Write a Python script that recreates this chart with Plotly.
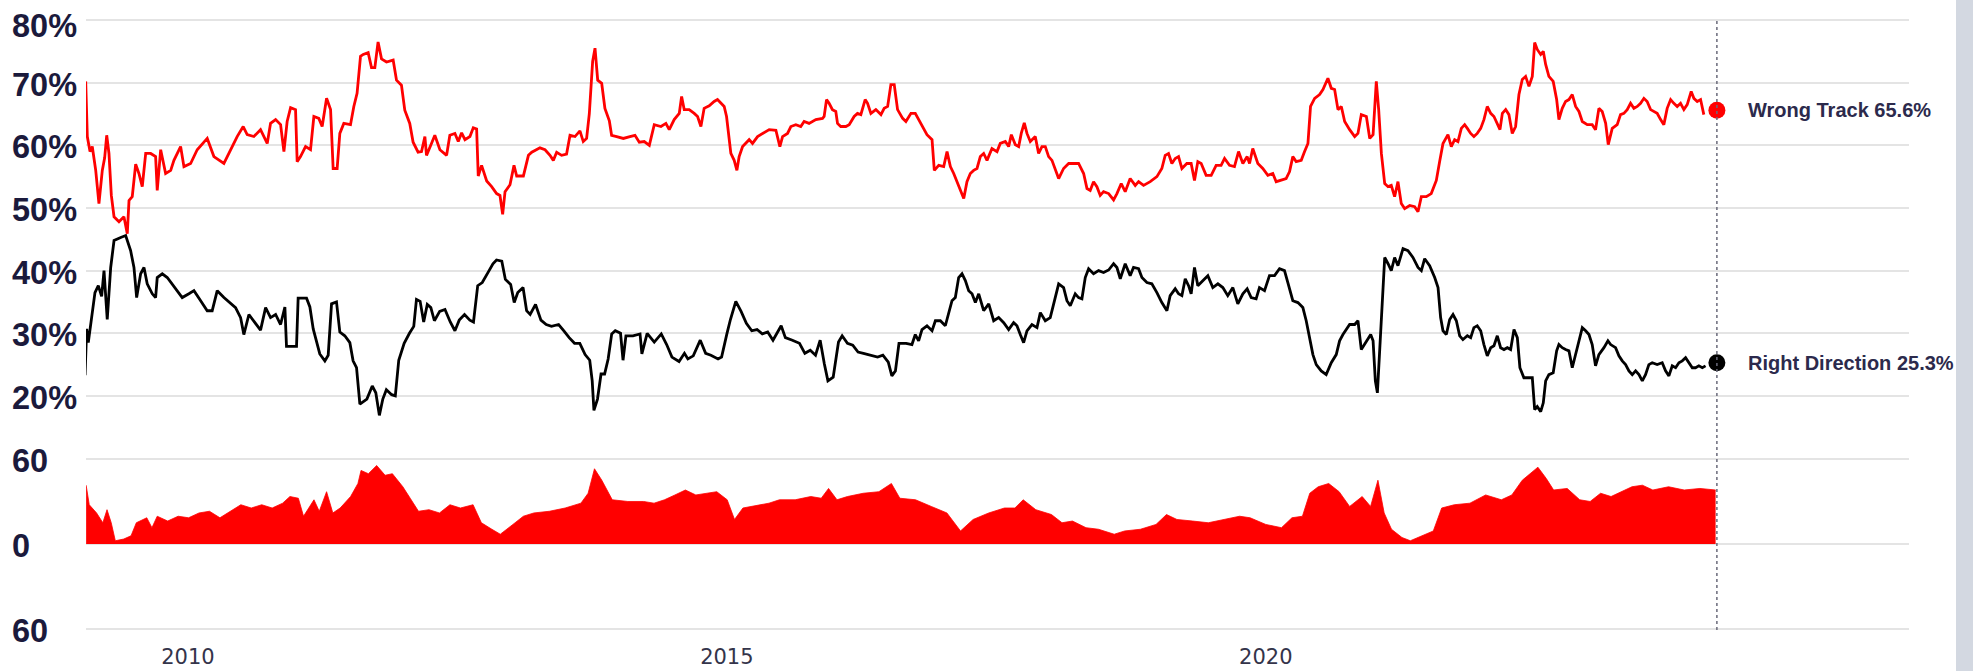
import plotly.graph_objects as go
from datetime import datetime

# ---------------- data (decimal years, percent) ----------------
wrong_t = [2009.051,2009.066,2009.091,2009.112,2009.144,2009.174,2009.205,2009.227,2009.246,2009.267,2009.289,2009.314,2009.360,2009.406,2009.437,2009.453,2009.483,2009.515,2009.545,2009.576,2009.608,2009.654,2009.700,2009.715,2009.747,2009.793,2009.840,2009.870,2009.932,2009.963,
 2010.025,2010.086,2010.179,2010.241,2010.334,2010.396,2010.457,2010.513,2010.550,2010.612,2010.674,2010.736,2010.767,2010.814,2010.860,2010.891,2010.921,2010.953,2010.999,
 2011.014,2011.045,2011.092,2011.138,2011.169,2011.215,2011.246,2011.287,2011.324,2011.348,2011.385,2011.410,2011.447,2011.509,2011.540,2011.570,2011.602,2011.627,2011.673,2011.704,2011.735,2011.765,2011.797,2011.843,2011.905,2011.936,2011.982,
 2012.013,2012.059,2012.090,2012.136,2012.168,2012.199,2012.214,2012.260,2012.291,2012.338,2012.400,2012.430,2012.477,2012.508,2012.539,2012.570,2012.616,2012.647,2012.678,2012.693,2012.724,2012.771,2012.817,2012.863,2012.894,2012.919,2012.941,2012.987,
 2013.024,2013.049,2013.111,2013.158,2013.189,2013.265,2013.312,2013.358,2013.389,2013.420,2013.466,2013.512,2013.544,2013.590,2013.636,2013.667,2013.698,2013.723,2013.754,2013.776,2013.801,2013.838,2013.868,2013.909,2013.930,2013.977,
 2014.039,2014.100,2014.147,2014.187,2014.233,2014.280,2014.326,2014.388,2014.434,2014.465,2014.511,2014.558,2014.580,2014.604,2014.650,2014.697,2014.728,2014.759,2014.789,2014.836,2014.882,2014.913,2014.944,2014.975,2014.997,
 2015.016,2015.037,2015.068,2015.093,2015.114,2015.146,2015.207,2015.238,2015.285,2015.331,2015.393,2015.455,2015.492,2015.517,2015.563,2015.594,2015.640,2015.686,2015.717,2015.763,2015.826,2015.888,2015.903,2015.925,2015.949,2015.980,
 2016.011,2016.027,2016.057,2016.104,2016.135,2016.181,2016.212,2016.243,2016.283,2016.305,2016.336,2016.382,2016.429,2016.459,2016.491,2016.521,2016.552,2016.583,2016.630,2016.660,2016.707,2016.747,2016.778,2016.809,2016.855,2016.902,2016.923,2016.964,
 2017.010,2017.041,2017.072,2017.103,2017.134,2017.165,2017.196,2017.226,2017.257,2017.288,2017.319,2017.350,2017.381,2017.412,2017.458,2017.505,2017.535,2017.582,2017.613,2017.638,2017.675,2017.706,2017.730,2017.758,2017.783,2017.814,2017.860,2017.891,2017.922,2017.953,2017.984,
 2018.015,2018.046,2018.077,2018.123,2018.170,2018.216,2018.262,2018.309,2018.340,2018.370,2018.401,2018.432,2018.463,2018.494,2018.541,2018.587,2018.618,2018.658,2018.695,2018.741,2018.788,2018.819,2018.865,2018.927,2018.989,
 2019.035,2019.066,2019.097,2019.128,2019.159,2019.190,2019.221,2019.267,2019.307,2019.338,2019.369,2019.400,2019.446,2019.493,2019.539,2019.585,2019.617,2019.663,2019.709,2019.747,2019.787,2019.827,2019.849,2019.879,2019.926,2019.972,
 2020.019,2020.065,2020.096,2020.142,2020.188,2020.220,2020.250,2020.281,2020.328,2020.359,2020.390,2020.414,2020.452,2020.498,2020.529,2020.575,2020.606,2020.637,2020.668,2020.699,2020.730,2020.776,2020.823,2020.853,2020.884,2020.931,2020.962,2020.993,
 2021.023,2021.045,2021.070,2021.101,2021.132,2021.162,2021.193,2021.224,2021.255,2021.286,2021.333,2021.379,2021.410,2021.441,2021.487,2021.533,2021.580,2021.611,2021.642,2021.688,2021.719,2021.750,2021.781,2021.812,2021.843,2021.868,2021.899,2021.929,2021.960,2021.992,
 2022.022,2022.053,2022.085,2022.115,2022.146,2022.171,2022.193,2022.224,2022.254,2022.285,2022.316,2022.347,2022.378,2022.409,2022.440,2022.471,2022.493,2022.517,2022.549,2022.573,2022.595,2022.625,2022.665,2022.697,2022.718,2022.749,2022.780,2022.811,2022.842,2022.873,2022.904,2022.935,2022.981,
 2023.027,2023.058,2023.089,2023.120,2023.152,2023.176,2023.213,2023.259,2023.290,2023.321,2023.352,2023.383,2023.414,2023.445,2023.476,2023.507,2023.537,2023.569,2023.600,2023.630,2023.662,2023.692,2023.723,2023.755,2023.785,2023.816,2023.847,2023.878,2023.909,2023.946,2023.971,
 2024.002,2024.033,2024.063]
wrong_v = [70.2,61.4,59.0,59.8,56.0,50.7,56.0,58.0,61.6,58.7,52.0,48.6,47.8,48.6,45.9,51.2,51.8,57.0,55.5,53.4,58.7,58.7,58.2,52.8,59.3,55.5,56.0,57.6,59.8,56.6,
 57.1,59.3,61.1,58.2,57.1,59.3,61.4,63.0,61.7,61.4,62.5,60.3,63.5,64.1,63.3,59.0,63.8,66.0,65.7,
 57.4,58.2,59.8,59.3,64.6,64.3,63.0,67.5,65.7,56.3,56.3,61.9,63.5,63.3,66.2,68.3,74.2,74.5,74.8,72.4,72.4,76.5,73.8,73.3,73.6,70.4,69.6,
 65.6,63.5,60.5,58.9,59.0,61.4,58.4,60.3,61.6,59.3,58.4,61.6,61.9,60.6,62.0,60.9,61.4,62.8,62.6,55.1,56.8,54.3,53.4,52.3,52.0,49.0,52.6,53.7,
 56.8,55.1,55.1,58.4,58.9,59.6,59.3,58.4,57.6,58.9,58.4,58.6,61.6,61.4,62.3,60.6,61.1,65.0,73.4,75.5,70.4,69.9,65.9,63.9,61.6,61.4,
 61.1,61.4,61.6,60.5,60.6,60.0,63.3,63.0,63.5,62.5,64.1,65.1,67.8,65.7,65.7,65.1,64.6,63.0,65.9,66.3,67.0,67.3,66.7,66.2,64.6,
 61.9,58.7,57.6,56.0,58.2,59.8,60.9,60.3,61.4,61.9,62.5,62.4,59.8,61.4,61.9,63.0,63.3,63.0,63.8,63.5,64.1,64.3,64.6,67.3,66.7,65.7,
 65.4,63.5,63.0,63.0,63.3,64.6,65.1,64.9,67.3,66.7,65.1,65.7,64.9,65.9,66.2,69.7,69.7,65.7,64.3,63.8,65.1,65.1,64.1,63.0,61.7,60.9,56.0,56.8,
 56.6,59.0,56.6,55.5,54.2,52.6,51.5,54.2,55.5,56.0,56.3,58.2,58.7,57.6,59.5,59.0,60.3,60.6,59.8,61.7,60.1,59.8,61.9,63.6,61.9,60.6,61.4,58.7,59.8,59.8,58.2,
 57.6,56.0,54.7,56.3,57.1,57.1,57.1,55.5,53.1,52.8,54.2,53.4,52.0,52.6,52.3,51.3,52.3,53.9,52.6,54.7,53.6,54.2,53.6,54.2,55.0,
 56.3,58.4,58.7,57.1,57.9,58.2,56.3,57.1,57.1,54.4,57.4,57.1,55.2,55.2,56.8,56.8,57.9,56.8,56.6,59.0,57.1,58.2,57.1,59.5,57.1,56.3,
 55.2,55.5,54.2,54.4,54.7,55.8,58.2,57.4,57.6,59.0,60.3,66.2,67.5,68.1,68.9,70.7,69.1,68.9,65.7,66.2,63.8,62.5,61.4,61.9,64.9,64.6,61.1,61.7,
 70.2,65.7,58.7,53.9,53.4,53.6,51.8,54.2,50.7,49.9,50.4,50.2,49.4,51.8,51.8,52.3,54.4,57.4,60.3,61.7,59.8,60.9,60.6,62.7,63.3,62.7,61.9,61.4,61.9,62.7,
 64.1,66.2,65.1,64.6,63.3,62.5,65.1,65.7,64.9,61.9,63.0,68.1,70.5,71.0,69.4,71.0,76.4,75.3,74.5,75.0,72.9,71.0,70.2,67.3,64.1,65.9,67.0,67.3,68.1,66.2,65.4,63.8,63.3,
 63.3,62.5,65.9,65.4,63.5,60.1,62.7,63.3,64.9,65.1,65.7,66.7,65.9,66.2,66.7,67.5,67.0,65.7,65.4,65.1,64.1,63.3,65.9,67.3,66.7,66.2,66.7,65.7,66.5,68.6,67.5,
 67.0,67.3,64.9]

right_t = [2009.045,2009.060,2009.075,2009.107,2009.137,2009.168,2009.199,2009.221,2009.251,2009.283,2009.314,2009.376,2009.422,2009.468,2009.499,2009.524,2009.561,2009.592,2009.622,2009.669,2009.700,2009.715,2009.762,2009.808,2009.854,2009.901,2009.947,
 2010.009,2010.056,2010.118,2010.179,2010.225,2010.272,2010.334,2010.396,2010.442,2010.489,2010.519,2010.566,2010.612,2010.674,2010.721,2010.767,2010.814,2010.860,2010.900,2010.915,
 2011.008,2011.023,2011.101,2011.132,2011.163,2011.194,2011.224,2011.271,2011.302,2011.333,2011.379,2011.410,2011.456,2011.503,2011.533,2011.565,2011.596,2011.661,2011.711,2011.744,2011.777,2011.809,2011.842,2011.891,2011.925,2011.957,
 2012.007,2012.056,2012.096,2012.121,2012.155,2012.188,2012.221,2012.254,2012.287,2012.336,2012.385,2012.434,2012.477,2012.517,2012.566,2012.615,2012.649,2012.688,2012.730,2012.780,2012.829,2012.862,2012.911,2012.944,2012.993,
 2013.026,2013.059,2013.108,2013.141,2013.174,2013.224,2013.274,2013.323,2013.372,2013.438,2013.487,2013.536,2013.586,2013.635,2013.684,2013.727,2013.750,2013.766,2013.799,2013.832,2013.865,2013.898,2013.931,2013.964,
 2014.013,2014.036,2014.063,2014.128,2014.194,2014.211,2014.260,2014.326,2014.391,2014.441,2014.490,2014.556,2014.606,2014.638,2014.688,2014.753,2014.803,2014.852,2014.918,2014.951,
 2015.000,2015.033,2015.083,2015.132,2015.181,2015.231,2015.280,2015.329,2015.379,2015.428,2015.504,2015.543,2015.608,2015.674,2015.724,2015.774,2015.823,2015.866,2015.905,2015.938,2015.987,
 2016.036,2016.070,2016.119,2016.168,2016.217,2016.267,2016.332,2016.398,2016.447,2016.497,2016.530,2016.563,2016.596,2016.662,2016.716,2016.747,2016.778,2016.809,2016.855,2016.902,2016.933,2016.979,
 2017.025,2017.056,2017.087,2017.118,2017.149,2017.180,2017.211,2017.242,2017.273,2017.304,2017.335,2017.381,2017.428,2017.474,2017.520,2017.567,2017.613,2017.659,2017.690,2017.721,2017.752,2017.783,2017.829,2017.876,2017.907,2017.953,2017.999,
 2018.031,2018.077,2018.123,2018.154,2018.185,2018.231,2018.262,2018.293,2018.324,2018.355,2018.401,2018.448,2018.494,2018.541,2018.587,2018.618,2018.649,2018.695,2018.741,2018.772,2018.819,2018.850,2018.896,2018.942,2018.989,
 2019.035,2019.082,2019.112,2019.159,2019.190,2019.221,2019.252,2019.283,2019.307,2019.338,2019.369,2019.415,2019.462,2019.508,2019.555,2019.601,2019.647,2019.694,2019.740,2019.787,2019.827,2019.864,2019.910,2019.941,2019.988,
 2020.034,2020.081,2020.127,2020.173,2020.204,2020.250,2020.297,2020.343,2020.374,2020.405,2020.436,2020.467,2020.513,2020.559,2020.606,2020.652,2020.683,2020.714,2020.745,2020.776,2020.823,2020.853,2020.884,2020.931,2020.971,2020.993,
 2021.014,2021.033,2021.055,2021.077,2021.101,2021.132,2021.162,2021.193,2021.224,2021.271,2021.317,2021.363,2021.410,2021.441,2021.472,2021.518,2021.565,2021.596,2021.620,2021.642,2021.673,2021.704,2021.735,2021.766,2021.797,2021.827,2021.868,2021.899,2021.929,2021.960,2021.992,
 2022.022,2022.053,2022.085,2022.115,2022.146,2022.177,2022.208,2022.239,2022.270,2022.301,2022.332,2022.356,2022.393,2022.440,2022.471,2022.493,2022.517,2022.549,2022.573,2022.595,2022.625,2022.665,2022.697,2022.718,2022.749,2022.780,2022.811,2022.842,2022.873,2022.904,2022.935,2022.966,2022.997,
 2023.027,2023.058,2023.089,2023.136,2023.173,2023.198,2023.244,2023.275,2023.306,2023.337,2023.368,2023.399,2023.430,2023.461,2023.492,2023.522,2023.553,2023.584,2023.630,2023.677,2023.708,2023.739,2023.770,2023.801,2023.832,2023.863,2023.894,2023.925,2023.956,2023.986,
 2024.017,2024.049,2024.079]
right_v = [23.3,30.7,28.5,33.0,36.5,37.6,35.9,40.0,32.2,40.5,44.8,45.3,45.6,43.2,40.5,35.7,39.5,40.5,37.9,36.3,35.7,38.9,39.5,38.9,37.9,36.8,35.7,
 36.3,36.8,35.2,33.6,33.6,36.8,35.7,34.7,34.1,32.5,29.8,33.0,32.0,30.5,34.1,32.5,33.0,31.4,34.2,27.9,
 27.9,35.6,35.6,34.2,30.7,28.5,26.7,25.6,26.5,34.7,35.0,30.2,29.6,28.5,25.6,24.5,18.7,19.5,21.6,20.5,16.9,19.5,21.0,20.2,20.0,25.7,
 28.4,30.0,31.1,35.4,35.1,31.8,34.6,34.1,32.0,33.5,33.8,31.8,30.4,32.1,33.0,32.1,31.8,37.6,38.1,39.6,41.1,41.7,41.5,38.6,37.8,
 34.9,36.5,37.3,33.6,33.0,34.6,32.1,31.4,31.1,31.4,30.4,29.3,28.4,28.4,26.6,25.7,22.4,17.7,19.5,23.5,23.5,25.9,29.9,30.4,
 30.0,25.7,29.6,29.6,29.9,26.7,30.0,28.6,29.9,28.2,26.2,25.5,26.8,25.9,26.4,28.9,26.8,26.5,25.9,26.2,
 29.9,32.2,35.1,33.5,31.6,30.4,30.6,29.9,30.2,28.9,31.2,29.3,28.9,28.4,26.8,27.3,26.5,28.9,25.1,22.4,23.0,
 28.6,29.6,28.4,28.1,27.0,26.8,26.5,26.2,26.5,25.4,23.2,24.0,28.4,28.4,28.2,29.8,28.8,30.6,31.2,30.4,32.0,32.0,
 31.2,33.0,35.2,35.7,38.9,39.5,38.4,36.8,36.3,34.9,36.3,33.6,34.7,32.0,32.5,31.7,30.6,31.7,31.2,29.8,28.5,30.4,31.4,30.9,33.3,32.0,32.5,
 34.7,37.9,37.3,35.2,34.4,36.3,35.7,35.5,38.9,40.3,39.5,40.0,39.7,40.1,41.1,40.5,38.7,41.1,39.2,40.5,40.3,38.9,38.1,37.9,36.5,
 34.9,33.6,36.0,37.1,36.3,36.0,38.7,37.6,36.3,40.5,37.6,38.4,39.2,37.3,37.9,37.3,36.0,37.3,34.7,36.3,37.1,35.7,35.5,37.3,36.8,
 39.2,39.2,40.3,40.0,38.1,35.2,34.9,34.1,32.0,29.3,26.6,25.0,24.0,23.4,25.3,26.6,28.8,29.8,30.6,31.4,31.4,32.0,27.4,28.8,29.8,28.8,
 22.4,20.5,27.2,35.2,42.1,41.1,40.0,42.1,40.8,43.5,43.2,42.1,40.5,40.0,41.9,40.8,38.9,37.3,32.5,30.4,29.8,32.2,33.0,32.0,29.6,29.0,29.6,29.3,30.9,31.2,30.4,
 28.2,26.4,27.7,28.0,29.6,27.7,27.4,27.7,27.4,30.6,29.3,24.5,22.9,22.9,22.9,17.8,18.3,17.5,18.9,22.4,23.4,23.7,27.2,28.2,27.7,27.4,27.2,24.5,26.6,29.0,30.9,30.4,29.8,
 28.2,24.8,26.6,27.7,28.8,28.2,27.7,26.4,25.6,25.0,24.0,23.4,24.0,23.4,22.4,23.4,25.0,25.3,25.0,25.3,24.0,23.2,24.8,24.5,25.3,25.6,26.1,25.3,24.5,24.5,
 24.8,24.5,24.8]

spread_t = [2009.055,2009.084,2009.152,2009.210,2009.249,2009.288,2009.326,2009.404,2009.472,2009.521,2009.618,2009.666,2009.715,2009.812,2009.909,
 2010.006,2010.103,2010.200,2010.297,2010.394,2010.491,2010.588,2010.685,2010.782,2010.879,2010.947,
 2011.025,2011.073,2011.170,2011.219,2011.287,2011.345,2011.413,2011.510,2011.578,2011.607,2011.675,2011.752,2011.830,2011.898,2011.995,
 2012.063,2012.140,2012.237,2012.334,2012.431,2012.528,2012.645,2012.722,2012.819,2012.897,
 2013.014,2013.111,2013.208,2013.353,2013.499,2013.645,2013.712,2013.771,2013.839,2013.936,
 2014.081,2014.227,2014.324,2014.421,2014.518,2014.615,2014.712,2014.809,2014.906,
 2015.003,2015.071,2015.149,2015.294,2015.391,2015.488,2015.634,2015.779,2015.876,2015.944,
 2016.022,2016.119,2016.265,2016.410,2016.526,2016.604,2016.749,2016.895,
 2017.040,2017.166,2017.283,2017.428,2017.574,2017.671,2017.748,2017.865,
 2018.010,2018.108,2018.205,2018.331,2018.447,2018.593,2018.690,2018.836,2018.981,
 2019.078,2019.175,2019.321,2019.466,2019.612,2019.757,2019.854,
 2020.000,2020.145,2020.242,2020.339,2020.407,2020.485,2020.582,2020.679,2020.776,2020.892,2020.970,
 2021.038,2021.096,2021.164,2021.261,2021.339,2021.455,2021.552,2021.630,2021.747,2021.892,
 2022.038,2022.184,2022.281,2022.378,2022.455,2022.523,2022.601,2022.669,2022.795,2022.911,
 2023.008,2023.105,2023.202,2023.299,2023.396,2023.493,2023.590,2023.736,2023.881,
 2024.027,2024.172]
spread_v = [41.5,27.7,21.9,15.0,24.2,15.0,2.3,3.5,5.8,15.0,18.5,11.5,19.6,16.2,19.6,
 18.5,21.9,23.1,18.5,23.1,27.7,25.4,27.7,25.4,28.8,33.5,
 32.3,19.6,31.2,23.1,36.9,21.9,25.4,33.5,42.7,51.9,49.6,55.4,48.5,49.6,40.4,
 32.3,23.1,24.2,21.9,27.7,25.4,27.7,15.0,10.4,6.9,
 13.8,19.6,21.9,23.1,25.4,28.8,35.8,53.1,45.0,31.2,
 30.0,30.0,28.8,31.2,34.6,38.1,34.6,35.8,36.9,
 31.2,17.3,25.4,27.7,28.8,31.2,31.2,33.5,32.3,39.2,
 31.2,33.5,35.8,36.9,42.7,32.3,31.2,26.5,
 21.9,9.2,17.3,21.9,25.4,25.4,31.2,24.2,
 20.8,15.0,16.2,11.5,10.4,6.9,9.2,10.4,13.8,
 20.8,17.3,16.2,15.0,17.3,19.6,18.5,
 13.8,11.5,18.5,19.6,35.8,40.4,42.7,36.9,26.5,33.5,26.5,
 45.0,21.9,10.4,4.6,2.3,5.8,9.2,25.4,27.7,28.8,
 34.6,31.2,34.6,45.0,49.6,54.2,46.2,38.1,39.2,31.2,
 30.0,35.8,33.5,36.9,40.4,41.5,38.1,40.4,38.1,
 39.2,38.1]

latest_t = 2024.184
latest_wrong = 65.6
latest_right = 25.3

top_ticks = [20, 30, 40, 50, 60, 70, 80]
top_labels = ["20%", "30%", "40%", "50%", "60%", "70%", "80%"]
bottom_ticks = [-60, 0, 60]
bottom_labels = ["60", "0", "60"]
x_tick_years = [2010, 2015, 2020]


def dec_to_dt(y):
    yr = int(y)
    a = datetime(yr, 1, 1)
    b = datetime(yr + 1, 1, 1)
    return a + (b - a) * (y - yr)


RED = "#ff0000"
INK = "#1b1a3c"
GRID = "#e4e4e4"

# figure fills the whole 1973x671 page (body margin removed in post_script)
FIG_W, FIG_H = 1973, 671
PL, PR, PT, PB = 86, 1909, 16, 633
plot_w = PR - PL
plot_h = PB - PT


def py(px):
    """pixel row -> paper y fraction"""
    return (PB - px) / plot_h


def pxp(px):
    """pixel column -> paper x fraction"""
    return (px - PL) / plot_w


fig = go.Figure()

fig.add_trace(go.Scatter(
    x=[dec_to_dt(t) for t in spread_t], y=spread_v, xaxis="x", yaxis="y2",
    mode="lines", line=dict(color=RED, width=0.8), fill="tozeroy",
    fillcolor=RED, hoverinfo="skip"))

fig.add_trace(go.Scatter(
    x=[dec_to_dt(t) for t in right_t], y=right_v, xaxis="x", yaxis="y",
    mode="lines", line=dict(color="#000000", width=2.8), name="Right Direction"))

fig.add_trace(go.Scatter(
    x=[dec_to_dt(t) for t in wrong_t], y=wrong_v, xaxis="x", yaxis="y",
    mode="lines", line=dict(color=RED, width=2.8), name="Wrong Track"))

fig.add_trace(go.Scatter(
    x=[dec_to_dt(latest_t)] * 2, y=[latest_wrong, latest_right], xaxis="x", yaxis="y",
    mode="markers", marker=dict(color=[RED, "#000000"], size=17), hoverinfo="skip"))

fig.update_layout(
    width=FIG_W, height=FIG_H,
    margin=dict(l=PL, r=FIG_W - PR, t=PT, b=FIG_H - PB, autoexpand=False),
    paper_bgcolor="white", plot_bgcolor="white",
    showlegend=False,
    font=dict(family="Liberation Sans, Arial, sans-serif"),
    xaxis=dict(
        type="date", anchor="y2", automargin=False,
        range=[dec_to_dt(2009.0538), dec_to_dt(2025.965)],
        tickvals=[datetime(y, 1, 1) for y in x_tick_years],
        ticktext=[str(y) for y in x_tick_years],
        showgrid=False, showline=False, zeroline=False,
        ticks="outside", ticklen=5, tickcolor="rgba(0,0,0,0)",
        tickfont=dict(size=21, color="#34344a", family="DejaVu Sans, Verdana, sans-serif"),
    ),
    yaxis=dict(
        domain=[py(421), 1.0], range=[16, 80.64], automargin=False,
        tickvals=top_ticks, showticklabels=False,
        showgrid=True, gridcolor=GRID, gridwidth=1.8, zeroline=False,
    ),
    yaxis2=dict(
        domain=[0.0, py(455)], range=[-62.8, 62.8], automargin=False,
        tickvals=bottom_ticks, showticklabels=False,
        showgrid=True, gridcolor=GRID, gridwidth=1.8, zeroline=False,
    ),
)

ann = []
lab_x = pxp(10)
for v, t in zip(top_ticks, top_labels):
    ann.append(dict(x=lab_x, xref="paper", y=v, yref="y", xanchor="left", yanchor="middle",
                    text="<b>%s</b>" % t, showarrow=False, yshift=-6 if v == 80 else -2,
                    font=dict(size=32.5, color=INK)))
for v, t in zip(bottom_ticks, bottom_labels):
    ann.append(dict(x=lab_x, xref="paper", y=v, yref="y2", xanchor="left", yanchor="middle",
                    text="<b>%s</b>" % t, showarrow=False, yshift=-2,
                    font=dict(size=32.5, color=INK)))
ann.append(dict(x=dec_to_dt(latest_t), xref="x", y=latest_wrong, yref="y", xanchor="left",
                yanchor="middle", xshift=29, showarrow=False,
                text="<b>Wrong Track %.1f%%</b>" % latest_wrong,
                font=dict(size=20, color="#2c2a4c")))
ann.append(dict(x=dec_to_dt(latest_t), xref="x", y=latest_right, yref="y", xanchor="left",
                yanchor="middle", xshift=29, showarrow=False,
                text="<b>Right Direction %.1f%%</b>" % latest_right,
                font=dict(size=20, color="#2c2a4c")))
fig.update_layout(annotations=ann)

fig.add_shape(type="line", xref="x", yref="paper",
              x0=dec_to_dt(latest_t), x1=dec_to_dt(latest_t), y0=py(630), y1=py(20),
              line=dict(color="#6a6a7a", width=1.5, dash="dot"))
fig.add_shape(type="rect", xref="paper", yref="paper",
              x0=pxp(1956), x1=pxp(1990),
              y0=py(690), y1=py(-20), line=dict(width=0), fillcolor="#d3d8e1", layer="above")

fig.write_html(
    "out.html",
    config={"displayModeBar": False},
    post_script="document.body.style.margin='0px';",
)
